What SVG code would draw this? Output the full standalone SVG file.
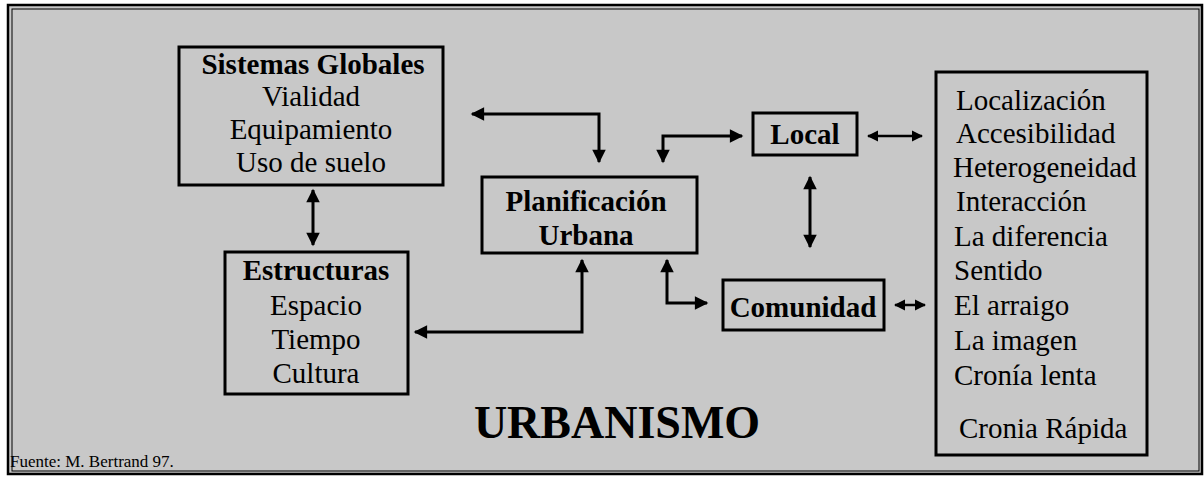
<svg xmlns="http://www.w3.org/2000/svg" width="1204" height="478" viewBox="0 0 1204 478">
<style>
.box{fill:none;stroke:#000;stroke-width:3}
.t{font-family:"Liberation Serif","Times New Roman",serif;font-size:29px;fill:#000}
.b{font-weight:bold}
.c{text-anchor:middle}
.ln{fill:none;stroke:#000;stroke-width:3}
.ln2{fill:none;stroke:#000;stroke-width:2.5}
</style>
<defs>
<marker id="ah" viewBox="0 0 10 10" refX="9" refY="5" markerWidth="5" markerHeight="4.5" markerUnits="strokeWidth" orient="auto-start-reverse">
<path d="M0,0 L10,5 L0,10 z" fill="#000"/>
</marker>
<marker id="as" viewBox="0 0 10 10" refX="9" refY="5" markerWidth="4.5" markerHeight="4.5" markerUnits="strokeWidth" orient="auto-start-reverse">
<path d="M0,0 L10,5 L0,10 z" fill="#000"/>
</marker>
</defs>
<rect x="0" y="0" width="1204" height="478" fill="#fff"/>
<rect x="8" y="5" width="1194" height="469" fill="#c8c8c8" stroke="#000" stroke-width="2.5"/>
<rect x="12" y="9" width="1187" height="462" fill="none" stroke="#000" stroke-width="1"/>

<g id="sistemas">
<rect class="box" x="179" y="47" width="264" height="138"/>
<text class="t b c" x="313" y="74">Sistemas Globales</text>
<text class="t c" x="311" y="106">Vialidad</text>
<text class="t c" x="311" y="139">Equipamiento</text>
<text class="t c" x="311" y="172">Uso de suelo</text>
</g>

<g id="estructuras">
<rect class="box" x="225" y="252" width="183" height="142"/>
<text class="t b c" x="316" y="280">Estructuras</text>
<text class="t c" x="316" y="315">Espacio</text>
<text class="t c" x="316" y="349">Tiempo</text>
<text class="t c" x="316" y="383">Cultura</text>
</g>

<g id="planificacion">
<rect class="box" x="482" y="177" width="215" height="76"/>
<text class="t b c" x="586" y="211">Planificación</text>
<text class="t b c" x="586" y="245">Urbana</text>
</g>

<g id="local">
<rect class="box" x="753" y="113" width="104" height="42"/>
<text class="t b c" x="805" y="144">Local</text>
</g>

<g id="comunidad">
<rect class="box" x="723" y="280" width="161" height="50"/>
<text class="t b c" x="803" y="317">Comunidad</text>
</g>

<g id="lista">
<rect class="box" x="936" y="72" width="211" height="383"/>
<text class="t" x="956" y="110">Localización</text>
<text class="t" x="956" y="143">Accesibilidad</text>
<text class="t" x="953" y="177">Heterogeneidad</text>
<text class="t" x="956" y="211">Interacción</text>
<text class="t" x="954" y="246">La diferencia</text>
<text class="t" x="954" y="280">Sentido</text>
<text class="t" x="954" y="315">El arraigo</text>
<text class="t" x="954" y="350">La imagen</text>
<text class="t" x="954" y="385">Cronía lenta</text>
<text class="t" x="959" y="438">Cronia Rápida</text>
</g>

<g id="titulo">
<text class="t b c" x="617" y="438" style="font-size:46px">URBANISMO</text>
<text class="t" x="10" y="467" style="font-size:17px">Fuente: M. Bertrand  97.</text>
</g>

<g id="connectors">
<path class="ln" d="M313,190 L313,245" marker-start="url(#ah)" marker-end="url(#ah)"/>
<path class="ln" d="M472,114 L599,114 L599,162" marker-start="url(#ah)" marker-end="url(#ah)"/>
<path class="ln" d="M663,162 L663,136 L742,136" marker-start="url(#ah)" marker-end="url(#ah)"/>
<path class="ln" d="M582,260 L582,332 L415,332" marker-start="url(#ah)" marker-end="url(#ah)"/>
<path class="ln" d="M667,260 L667,303 L707,303" marker-start="url(#ah)" marker-end="url(#ah)"/>
<path class="ln" d="M810,177 L810,247" marker-start="url(#ah)" marker-end="url(#ah)"/>
<path class="ln2" d="M868,136 L922,136" marker-start="url(#as)" marker-end="url(#as)"/>
<path class="ln2" d="M895,305 L925,305" marker-start="url(#as)" marker-end="url(#as)"/>
</g>
</svg>
